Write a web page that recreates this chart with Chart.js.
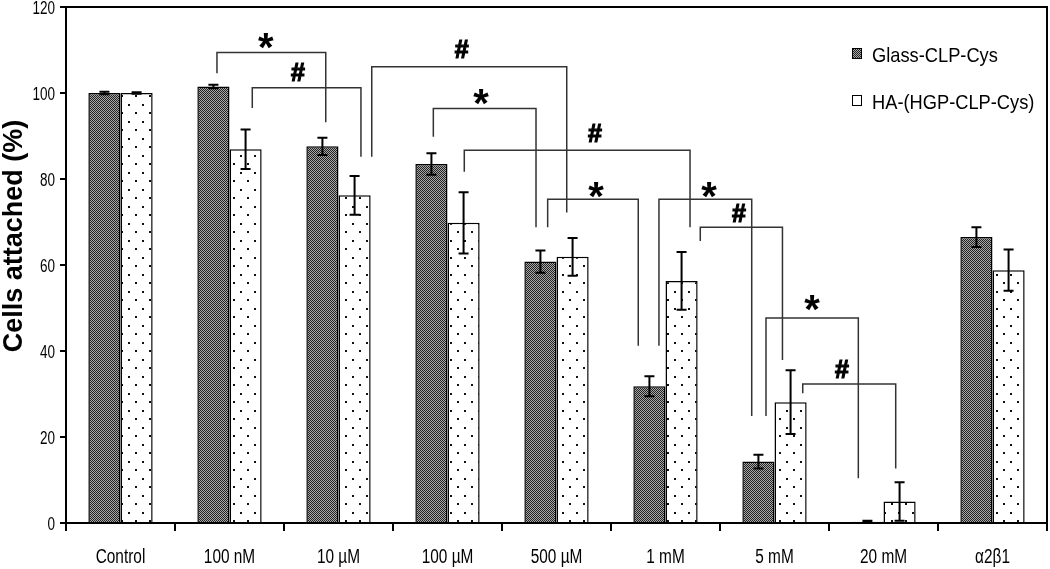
<!DOCTYPE html>
<html>
<head>
<meta charset="utf-8">
<script src="https://cdn.jsdelivr.net/npm/chart.js@4.4.1/dist/chart.umd.min.js"></script>
<style>
  html, body { margin: 0; padding: 0; background: #fff; }
  #chart { display: block; }
</style>
</head>
<body>
<canvas id="chart" width="1050" height="569"></canvas>
<script>
// values
const categories = ['Control', '100 nM', '10 µM', '100 µM', '500 µM', '1 mM', '5 mM', '20 mM', 'α2β1'];
const glassValues = [100, 101.5, 87.6, 83.5, 60.8, 31.8, 14.3, 0.3, 66.5];
const glassErrors = [0.3, 0.4, 2.0, 2.5, 2.6, 2.3, 1.6, 0.2, 2.3];
const haValues = [100, 86.9, 76.2, 69.8, 61.9, 56.3, 28.1, 5.0, 58.8];
const haErrors = [0.2, 4.6, 4.5, 7.1, 4.4, 6.7, 7.4, 4.5, 4.8];
const seriesNames = ['Glass-CLP-Cys', 'HA-(HGP-CLP-Cys)'];
const yTicks = [0, 20, 40, 60, 80, 100, 120];
const yTitle = 'Cells attached (%)';

// significance brackets: symbol, left x, right x (category units), top y, left leg end, right leg end, label x, label y
const brackets = [
  ['*', 0.885, 1.883, 109.4, 104.6, 93.2, 1.332, 112.8],
  ['#', 1.209, 2.206, 101.2, 96.5, 85.2, 1.628, 105.0],
  ['#', 2.305, 4.094, 106.1, 85.2, 72.2, 3.130, 110.2],
  ['*', 2.870, 3.812, 96.4, 89.8, 68.8, 3.307, 99.8],
  ['#', 3.154, 5.225, 86.7, 81.7, 68.8, 4.353, 90.6],
  ['*', 3.919, 4.750, 75.3, 68.8, 41.2, 4.362, 78.2],
  ['*', 4.940, 5.791, 75.3, 41.2, 24.9, 5.399, 78.2],
  ['#', 5.319, 6.073, 68.8, 65.6, 37.9, 5.675, 72.2],
  ['*', 5.922, 6.769, 47.7, 24.9, 10.4, 6.344, 51.7],
  ['#', 6.259, 7.112, 32.3, 30.2, 12.7, 6.619, 35.8]
];

const sans = 'Arial, "Liberation Sans", sans-serif';

function makeChecker() {
  const c = document.createElement('canvas');
  c.width = 2; c.height = 2;
  const g = c.getContext('2d');
  g.fillStyle = '#a8a8a8'; g.fillRect(0, 0, 2, 2);
  g.fillStyle = '#222'; g.fillRect(0, 0, 1, 1); g.fillRect(1, 1, 1, 1);
  return g.createPattern(c, 'repeat');
}
function makeDots() {
  const c = document.createElement('canvas');
  c.width = 14; c.height = 17;
  const g = c.getContext('2d');
  g.fillStyle = '#fff'; g.fillRect(0, 0, 14, 17);
  g.fillStyle = '#111';
  g.fillRect(2, 2, 2, 2);
  g.fillRect(9, 10, 2, 2);
  return g.createPattern(c, 'repeat');
}
const checker = makeChecker();
const dots = makeDots();

// squeezed text, like the narrow face of the original
function narrowText(ctx, text, x, y, size, sx, align) {
  ctx.save();
  ctx.font = size + 'px ' + sans;
  ctx.textAlign = align;
  ctx.textBaseline = 'alphabetic';
  ctx.translate(x, y);
  ctx.scale(sx, 1);
  ctx.fillText(text, 0, 0);
  ctx.restore();
}

const errorBars = {
  id: 'errorBars',
  afterDatasetsDraw(chart) {
    const ctx = chart.ctx, ys = chart.scales.y;
    const errs = [glassErrors, haErrors];
    const vals = [glassValues, haValues];
    ctx.save();
    ctx.strokeStyle = '#000';
    ctx.lineWidth = 2;
    chart.data.datasets.forEach((ds, d) => {
      chart.getDatasetMeta(d).data.forEach((bar, i) => {
        const x = bar.x;
        const t = ys.getPixelForValue(vals[d][i] + errs[d][i]);
        const b = ys.getPixelForValue(vals[d][i] - errs[d][i]);
        ctx.beginPath();
        ctx.moveTo(x, t); ctx.lineTo(x, b);
        ctx.moveTo(x - 5, t); ctx.lineTo(x + 5, t);
        ctx.moveTo(x - 5, b); ctx.lineTo(x + 5, b);
        ctx.stroke();
      });
    });
    ctx.restore();
  }
};

const annotations = {
  id: 'annotations',
  afterDraw(chart) {
    const ctx = chart.ctx, xs = chart.scales.x, ys = chart.scales.y;
    const a = chart.chartArea;
    const x0 = xs.getPixelForValue(0);
    const step = xs.getPixelForValue(1) - x0;
    const px = v => x0 + v * step;
    ctx.save();
    // frame top/right
    ctx.strokeStyle = '#000';
    ctx.lineWidth = 2;
    ctx.beginPath();
    ctx.moveTo(a.left, a.top); ctx.lineTo(a.right, a.top); ctx.lineTo(a.right, a.bottom);
    ctx.stroke();

    // tick labels
    ctx.fillStyle = '#000';
    xs.ticks.forEach((t, i) => {
      narrowText(ctx, categories[i], xs.getPixelForTick(i), a.bottom + 40, 20, 0.77, 'center');
    });
    ys.ticks.forEach(t => {
      narrowText(ctx, String(t.value), a.left - 11, ys.getPixelForValue(t.value) + 6.5, 18, 0.75, 'right');
    });

    // axis title
    ctx.save();
    ctx.translate(15, 236);
    ctx.rotate(-Math.PI / 2);
    ctx.font = 'bold 27px ' + sans;
    ctx.textAlign = 'center';
    ctx.textBaseline = 'middle';
    ctx.fillText(yTitle, 0, 0);
    ctx.restore();

    // brackets
    ctx.strokeStyle = '#333';
    ctx.lineWidth = 1.5;
    ctx.textAlign = 'center';
    ctx.textBaseline = 'alphabetic';
    brackets.forEach(b => {
      const [sym, l, r, top, le, re, lx, ly] = b;
      const yt = ys.getPixelForValue(top);
      ctx.beginPath();
      ctx.moveTo(px(l), ys.getPixelForValue(le));
      ctx.lineTo(px(l), yt);
      ctx.lineTo(px(r), yt);
      ctx.lineTo(px(r), ys.getPixelForValue(re));
      ctx.stroke();
      const cy = ys.getPixelForValue(ly);
      ctx.fillStyle = '#000';
      if (sym === '*') {
        ctx.font = 'bold 40px ' + sans;
        ctx.fillText(sym, px(lx), cy + 0.57 * 40);
      } else {
        ctx.font = 'bold 25px ' + sans;
        ctx.save();
        ctx.lineWidth = 1.2;
        ctx.strokeStyle = '#000';
        ctx.strokeText(sym, px(lx), cy + 0.36 * 25);
        ctx.fillText(sym, px(lx), cy + 0.36 * 25);
        ctx.restore();
      }
    });

    // legend
    const items = [[checker, 54], ['#fff', 101]];
    items.forEach((it, k) => {
      const y = it[1];
      ctx.fillStyle = it[0];
      ctx.fillRect(852, y - 6, 10, 11);
      ctx.strokeStyle = '#000';
      ctx.lineWidth = 1;
      ctx.strokeRect(852.5, y - 5.5, 9, 10);
      ctx.fillStyle = '#000';
      narrowText(ctx, seriesNames[k], 872, y + 7.5, 21, 0.87, 'left');
    });
    ctx.restore();
  }
};

new Chart(document.getElementById('chart'), {
  type: 'bar',
  data: {
    labels: categories,
    datasets: [
      {
        label: seriesNames[0],
        data: glassValues,
        backgroundColor: checker,
        borderColor: '#000',
        borderWidth: 1.5,
        categoryPercentage: 0.59,
        barPercentage: 1
      },
      {
        label: seriesNames[1],
        data: haValues,
        backgroundColor: dots,
        borderColor: '#000',
        borderWidth: 1.5,
        categoryPercentage: 0.59,
        barPercentage: 1
      }
    ]
  },
  options: {
    responsive: false,
    animation: false,
    devicePixelRatio: 1,
    layout: { padding: { top: 7, right: 3, left: 0, bottom: 0 } },
    plugins: {
      legend: { display: false },
      tooltip: { enabled: false }
    },
    scales: {
      x: {
        offset: true,
        grid: { display: true, drawOnChartArea: false, drawTicks: true, tickLength: 8, offset: true, color: '#000', lineWidth: 2 },
        border: { display: true, color: '#000', width: 2 },
        ticks: { display: false },
        afterFit: s => { s.height = 46; }
      },
      y: {
        min: 0,
        max: 120,
        afterBuildTicks: s => { s.ticks = yTicks.map(v => ({ value: v })); },
        grid: { display: true, drawOnChartArea: false, drawTicks: true, tickLength: 6, color: '#000', lineWidth: 2 },
        border: { display: true, color: '#000', width: 2 },
        ticks: { display: false },
        afterFit: s => { s.width = 66; }
      }
    }
  },
  plugins: [errorBars, annotations]
});
</script>
</body>
</html>
